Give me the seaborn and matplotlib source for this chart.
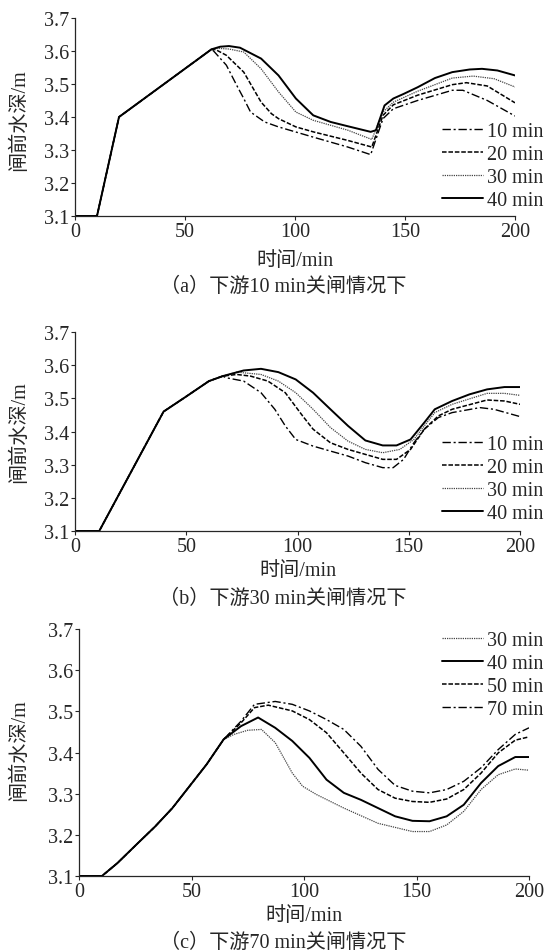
import matplotlib
matplotlib.use("Agg")
import matplotlib.pyplot as plt
import seaborn as sns

# ---- panel (a): downstream gate closes in 10 min ----
a_rise_t = [0, 10, 20, 62]
a_rise_h = [3.1, 3.1, 3.4, 3.605]
a10_t = [63, 68.8, 73.5, 76.7, 79.8, 86.2, 92.5, 108.3, 124, 134.4, 140, 144.7, 155.7, 171.5, 176.3, 187.4, 200]
a10_h = [3.6, 3.557, 3.496, 3.456, 3.415, 3.385, 3.37, 3.339, 3.309, 3.286, 3.395, 3.425, 3.45, 3.481, 3.481, 3.45, 3.403]
a20_t = [64, 68.8, 76.7, 84.6, 89.3, 92.5, 100.4, 108.3, 124, 134.9, 140, 144.7, 155.7, 171.5, 177.9, 187.4, 200]
a20_h = [3.604, 3.587, 3.536, 3.445, 3.41, 3.395, 3.37, 3.355, 3.329, 3.309, 3.405, 3.437, 3.466, 3.498, 3.504, 3.494, 3.443]
a30_t = [65, 70, 76.7, 84.6, 92.5, 100.4, 108.3, 124, 134.9, 140, 144.7, 155.7, 171.5, 181, 190.5, 200]
a30_h = [3.608, 3.606, 3.597, 3.546, 3.476, 3.415, 3.39, 3.36, 3.332, 3.415, 3.445, 3.478, 3.518, 3.524, 3.516, 3.491]
a40_t = [66, 70, 75, 84.6, 92.5, 100.4, 108.3, 116.2, 124, 134.4, 136.8, 140.7, 144.7, 149.4, 155.7, 163.6, 171.5, 179.4, 185, 192, 200]
a40_h = [3.613, 3.615, 3.61, 3.577, 3.526, 3.456, 3.405, 3.385, 3.372, 3.355, 3.36, 3.435, 3.456, 3.47, 3.49, 3.518, 3.536, 3.544, 3.546, 3.541, 3.526]

# ---- panel (b): downstream gate closes in 30 min ----
b_rise_t = [0, 10.9, 39.8, 49.2, 60.2, 66.4]
b_rise_h = [3.1, 3.1, 3.46, 3.502, 3.552, 3.567]
b10_t = [68, 75.8, 83.6, 89.8, 94.5, 99.2, 107, 114.8, 122.7, 130.5, 138.3, 143, 147.7, 152.3, 157, 163.3, 169.5, 182, 188.3, 200]
b10_h = [3.562, 3.552, 3.517, 3.467, 3.417, 3.376, 3.356, 3.341, 3.326, 3.306, 3.291, 3.291, 3.316, 3.366, 3.407, 3.442, 3.457, 3.472, 3.467, 3.445]
b20_t = [72.7, 78.9, 86.7, 94.5, 102.3, 107, 114.8, 122.7, 130.5, 138.3, 144.5, 150.8, 157, 163.3, 169.5, 185.2, 193, 200]
b20_h = [3.572, 3.567, 3.552, 3.517, 3.447, 3.407, 3.366, 3.346, 3.331, 3.316, 3.316, 3.346, 3.407, 3.447, 3.467, 3.495, 3.492, 3.482]
b30_t = [72.7, 83.6, 91.4, 99.2, 107, 114.8, 122.7, 130.5, 138.3, 146, 152.3, 157, 161.7, 169.5, 185.2, 193, 200]
b30_h = [3.579, 3.572, 3.552, 3.517, 3.467, 3.412, 3.371, 3.346, 3.336, 3.346, 3.376, 3.417, 3.457, 3.482, 3.515, 3.515, 3.509]
b40_t = [75.8, 83.6, 91.4, 99.2, 107, 114.8, 122.7, 130.5, 138.3, 144.5, 150.8, 157, 161.7, 169.5, 177.3, 185.2, 193, 200]
b40_h = [3.584, 3.589, 3.579, 3.557, 3.517, 3.467, 3.417, 3.373, 3.358, 3.358, 3.376, 3.427, 3.467, 3.492, 3.512, 3.527, 3.534, 3.534]

# ---- panel (c): downstream gate closes in 70 min ----
c_rise_t = [0, 10.2, 17, 26.2, 33.8, 41.5, 49.1, 56.7, 64.3]
c_rise_h = [3.1, 3.1, 3.131, 3.18, 3.22, 3.265, 3.318, 3.371, 3.432]
c30_t = [68.9, 75, 81.1, 87.2, 94.8, 99.4, 105.5, 117.7, 132.9, 148.2, 155.8, 163.4, 171, 178.7, 186.3, 193.9, 200]
c30_h = [3.444, 3.454, 3.456, 3.424, 3.35, 3.318, 3.298, 3.265, 3.228, 3.208, 3.208, 3.224, 3.257, 3.31, 3.346, 3.36, 3.357]
c40_t = [72, 79.6, 87.2, 94.8, 102.4, 110, 117.7, 125.3, 132.9, 140.5, 148.2, 155.8, 163.4, 171, 178.7, 186.3, 193.9, 200]
c40_h = [3.464, 3.485, 3.46, 3.428, 3.387, 3.334, 3.302, 3.285, 3.265, 3.245, 3.234, 3.233, 3.245, 3.273, 3.326, 3.367, 3.389, 3.389]
c50_t = [72, 78, 84.1, 94.8, 102.4, 110, 117.7, 125.3, 132.9, 140.5, 148.2, 155.8, 163.4, 171, 178.7, 186.3, 193.9, 200]
c50_h = [3.472, 3.509, 3.515, 3.501, 3.48, 3.448, 3.399, 3.35, 3.31, 3.289, 3.281, 3.279, 3.287, 3.31, 3.35, 3.399, 3.43, 3.438]
c70_t = [72, 78, 87.2, 94.8, 102.4, 110, 117.7, 125.3, 132.9, 140.5, 148.2, 155.8, 163.4, 171, 178.7, 186.3, 193.9, 200]
c70_h = [3.476, 3.517, 3.524, 3.517, 3.501, 3.48, 3.456, 3.415, 3.359, 3.32, 3.306, 3.302, 3.31, 3.33, 3.363, 3.407, 3.444, 3.46]

x_ticks = [0, 50, 100, 150, 200]
y_ticks = [3.1, 3.2, 3.3, 3.4, 3.5, 3.6, 3.7]
captions = ["（a）下游10 min关闸情况下", "（b）下游30 min关闸情况下", "（c）下游70 min关闸情况下"]

STYLES = {
    10: dict(linestyle=(0, (6, 2, 1.5, 2)), lw=1.0, color="black"),
    20: dict(linestyle=(0, (3, 1.2)), lw=1.1, color="black"),
    30: dict(linestyle=(0, (1, 0.8)), lw=0.9, color="#444444"),
    40: dict(linestyle="-", lw=1.4, color="black"),
    50: dict(linestyle=(0, (3, 1.2)), lw=1.1, color="black"),
    70: dict(linestyle=(0, (6, 2, 1.5, 2)), lw=1.0, color="black"),
}

sns.set_style("ticks")
plt.rcParams["font.family"] = ["Liberation Serif", "Noto Sans CJK SC"]
plt.rcParams["axes.unicode_minus"] = False

W, H = 546, 953
FS = 14.5
fig = plt.figure(figsize=(W / 100, H / 100), dpi=100)


def box(l, r, t, b):
    return [l / W, 1 - b / H, (r - l) / W, (b - t) / H]


def draw_panel(ax, rise_t, rise_h, curves, caption, ylab_y, xlab_y, cap_y,
               legend_loc, legend_y):
    for key, t, h in curves:
        sns.lineplot(x=rise_t + t, y=rise_h + h, ax=ax, label=f"{key} min",
                     estimator=None, sort=False, **STYLES[key])
    ax.set_xlim(0, 200)
    ax.set_ylim(3.1, 3.7)
    ax.set_xticks(x_ticks)
    ax.set_yticks(y_ticks)
    ax.set_yticklabels([f"{v:.1f}" for v in y_ticks])
    ax.tick_params(labelsize=FS, length=3, width=0.8, pad=1, direction="out")
    sns.despine(ax=ax)
    for s in ["left", "bottom"]:
        ax.spines[s].set_linewidth(0.9)
    ax.set_xlabel("时间/min", fontsize=FS, va="center")
    ax.set_ylabel("闸前水深/m", fontsize=FS, va="center")
    bb = ax.get_position()
    ax.xaxis.set_label_coords((bb.x0 + bb.x1) / 2, 1 - xlab_y / H, transform=fig.transFigure)
    ax.yaxis.set_label_coords(19 / W, 1 - ylab_y / H, transform=fig.transFigure)
    fig.text(283 / W, 1 - cap_y / H, caption, ha="center", va="center", fontsize=FS)
    ax.legend(loc=legend_loc, bbox_to_anchor=(543 / W, 1 - legend_y / H),
              bbox_transform=fig.transFigure, frameon=False, fontsize=FS,
              handlelength=2.0, handletextpad=0.2, labelspacing=0.2,
              borderpad=0, borderaxespad=0)


ax_a = fig.add_axes(box(75, 515, 19, 217))
draw_panel(ax_a, a_rise_t, a_rise_h,
           [(10, a10_t, a10_h), (20, a20_t, a20_h), (30, a30_t, a30_h), (40, a40_t, a40_h)],
           captions[0], 120, 262, 287, "lower right", 211)

ax_b = fig.add_axes(box(75, 520, 333, 532))
draw_panel(ax_b, b_rise_t, b_rise_h,
           [(10, b10_t, b10_h), (20, b20_t, b20_h), (30, b30_t, b30_h), (40, b40_t, b40_h)],
           captions[1], 432, 572, 599, "lower right", 524)

ax_c = fig.add_axes(box(79, 529, 630, 877))
draw_panel(ax_c, c_rise_t, c_rise_h,
           [(30, c30_t, c30_h), (40, c40_t, c40_h), (50, c50_t, c50_h), (70, c70_t, c70_h)],
           captions[2], 750, 917, 943, "upper right", 632)

fig.savefig("out.png", dpi=100, facecolor="white")
